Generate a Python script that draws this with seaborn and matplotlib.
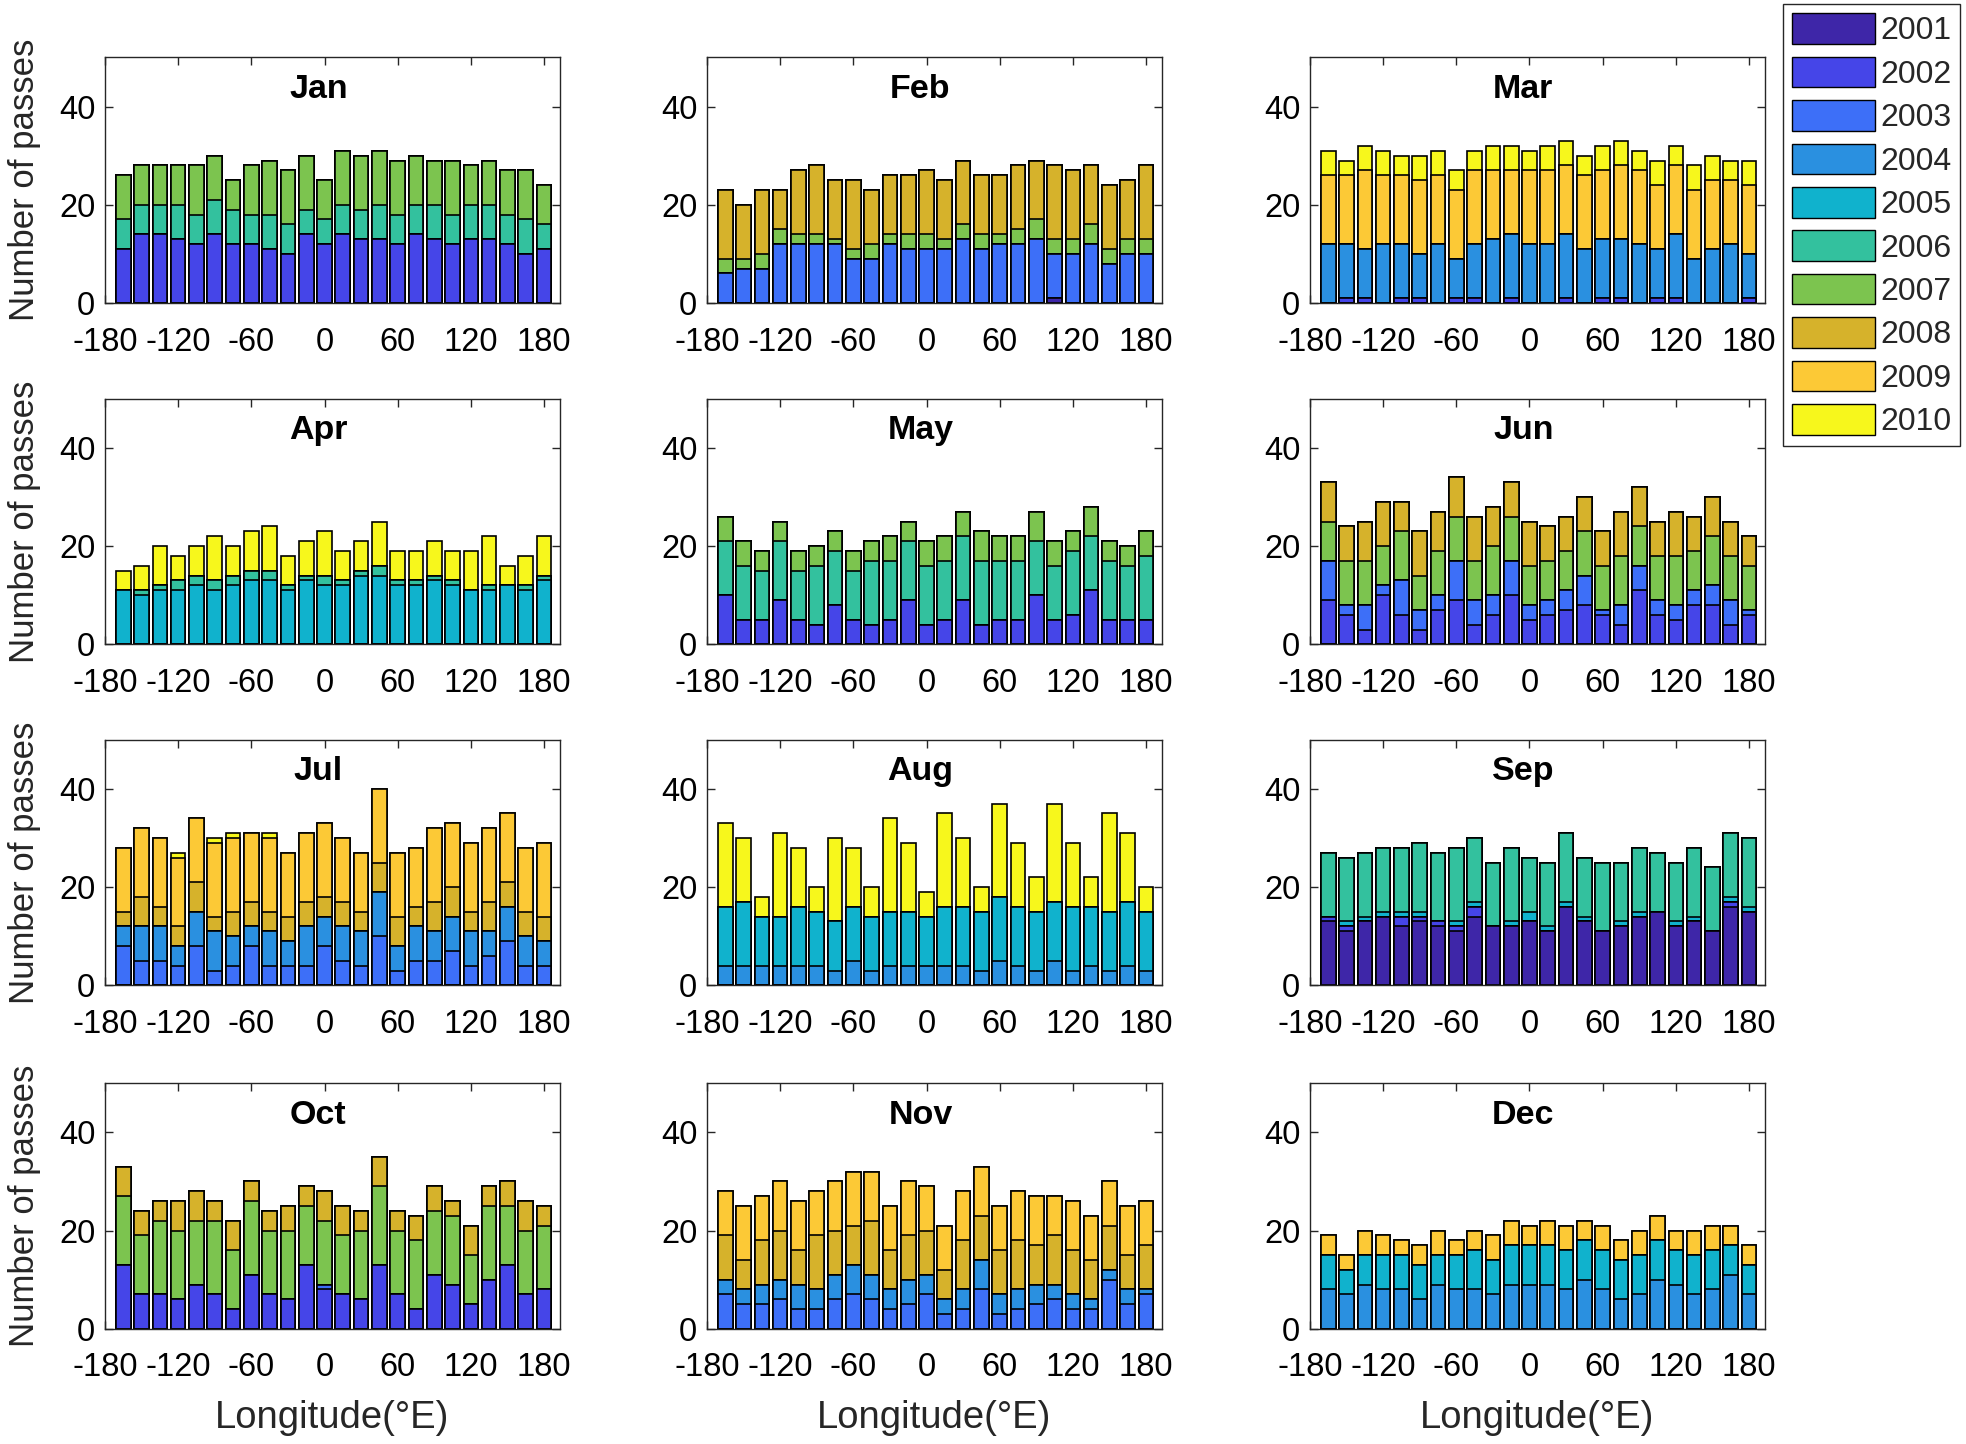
import numpy as np
import pandas as pd
import matplotlib
matplotlib.use("Agg")
import matplotlib.pyplot as plt
from matplotlib.patches import Patch
import seaborn as sns

# bar centres (deg E) and the years that get stacked
lon = list(range(-165, 181, 15))
years = list(range(2001, 2011))
year_colors = ["#3E26A8", "#4545E8", "#3D6FF8", "#2A90E0", "#10B2CD",
               "#33C19E", "#7CC44F", "#D6B22B", "#FCC936", "#F7F71C"]
month_names = ["Jan", "Feb", "Mar", "Apr", "May", "Jun",
               "Jul", "Aug", "Sep", "Oct", "Nov", "Dec"]
xticks = [-180, -120, -60, 0, 60, 120, 180]
yticks = [0, 20, 40]

# passes per longitude bin, by year (years not listed are zero)
jan = {
    2002: [11, 14, 14, 13, 12, 14, 12, 12, 11, 10, 14, 12, 14, 13, 13, 12, 14, 13, 12, 13, 13, 12, 10, 11],
    2006: [6, 6, 6, 7, 6, 7, 7, 6, 7, 6, 5, 5, 6, 6, 7, 6, 6, 7, 6, 7, 7, 6, 7, 5],
    2007: [9, 8, 8, 8, 10, 9, 6, 10, 11, 11, 11, 8, 11, 11, 11, 11, 10, 9, 11, 8, 9, 9, 10, 8],
}
feb = {
    2001: [0, 0, 0, 0, 0, 0, 0, 0, 0, 0, 0, 0, 0, 0, 0, 0, 0, 0, 1, 0, 0, 0, 0, 0],
    2003: [6, 7, 7, 12, 12, 12, 12, 9, 9, 12, 11, 11, 11, 13, 11, 12, 12, 13, 9, 10, 12, 8, 10, 10],
    2007: [3, 2, 3, 3, 2, 2, 1, 2, 3, 2, 3, 3, 2, 3, 3, 2, 3, 4, 3, 3, 4, 3, 3, 3],
    2008: [14, 11, 13, 8, 13, 14, 12, 14, 11, 12, 12, 13, 12, 13, 12, 12, 13, 12, 15, 14, 12, 13, 12, 15],
}
mar = {
    2002: [0, 1, 1, 0, 1, 1, 0, 1, 1, 0, 1, 0, 0, 1, 0, 1, 1, 0, 1, 1, 0, 0, 0, 1],
    2004: [12, 11, 10, 12, 11, 9, 12, 8, 11, 13, 13, 12, 12, 13, 11, 12, 12, 12, 10, 13, 9, 11, 12, 9],
    2009: [14, 14, 16, 14, 14, 15, 14, 14, 15, 14, 13, 15, 15, 14, 15, 14, 15, 15, 13, 14, 14, 14, 13, 14],
    2010: [5, 3, 5, 5, 4, 5, 5, 4, 4, 5, 5, 4, 5, 5, 4, 5, 5, 4, 5, 4, 5, 5, 4, 5],
}
apr = {
    2005: [11, 10, 11, 11, 12, 11, 12, 13, 13, 11, 13, 12, 12, 14, 14, 12, 12, 13, 12, 11, 11, 12, 11, 13],
    2006: [0, 1, 1, 2, 2, 2, 2, 2, 2, 1, 1, 2, 1, 1, 2, 1, 1, 1, 1, 0, 1, 0, 1, 1],
    2010: [4, 5, 8, 5, 6, 9, 6, 8, 9, 6, 7, 9, 6, 6, 9, 6, 6, 7, 6, 8, 10, 4, 6, 8],
}
may = {
    2002: [10, 5, 5, 9, 5, 4, 8, 5, 4, 5, 9, 4, 5, 9, 4, 5, 5, 10, 5, 6, 11, 5, 5, 5],
    2006: [11, 11, 10, 12, 10, 12, 11, 10, 13, 12, 12, 12, 12, 13, 13, 12, 12, 11, 11, 13, 11, 12, 11, 13],
    2007: [5, 5, 4, 4, 4, 4, 4, 4, 4, 5, 4, 5, 5, 5, 6, 5, 5, 6, 5, 4, 6, 4, 4, 5],
}
jun = {
    2002: [9, 6, 3, 10, 6, 3, 7, 9, 4, 6, 10, 5, 6, 7, 8, 6, 4, 11, 6, 5, 8, 8, 4, 6],
    2003: [8, 2, 5, 2, 7, 4, 3, 8, 5, 4, 7, 3, 3, 4, 6, 1, 4, 5, 3, 3, 3, 4, 5, 1],
    2007: [8, 9, 9, 8, 10, 7, 9, 9, 8, 10, 9, 8, 8, 8, 9, 9, 10, 8, 9, 10, 8, 10, 9, 9],
    2008: [8, 7, 8, 9, 6, 9, 8, 8, 9, 8, 7, 9, 7, 7, 7, 7, 9, 8, 7, 9, 7, 8, 7, 6],
}
jul = {
    2003: [8, 5, 5, 4, 8, 3, 4, 8, 4, 4, 4, 8, 5, 4, 10, 3, 5, 5, 7, 4, 6, 9, 4, 4],
    2004: [4, 7, 7, 4, 7, 8, 6, 4, 7, 5, 8, 6, 7, 7, 9, 5, 7, 6, 7, 7, 5, 7, 6, 5],
    2008: [3, 6, 4, 4, 6, 3, 5, 5, 4, 5, 5, 4, 5, 4, 6, 6, 4, 6, 6, 4, 6, 5, 5, 5],
    2009: [13, 14, 14, 14, 13, 15, 15, 14, 15, 13, 14, 15, 13, 12, 15, 13, 12, 15, 13, 14, 15, 14, 13, 15],
    2010: [0, 0, 0, 1, 0, 1, 1, 0, 1, 0, 0, 0, 0, 0, 0, 0, 0, 0, 0, 0, 0, 0, 0, 0],
}
aug = {
    2004: [4, 4, 4, 4, 4, 4, 3, 5, 3, 4, 4, 4, 4, 4, 3, 5, 4, 3, 5, 3, 4, 3, 4, 3],
    2005: [12, 13, 10, 10, 12, 11, 10, 11, 11, 11, 11, 10, 12, 12, 12, 13, 12, 12, 12, 13, 12, 12, 13, 12],
    2010: [17, 13, 4, 17, 12, 5, 17, 12, 6, 19, 14, 5, 19, 14, 5, 19, 13, 7, 20, 13, 6, 20, 14, 5],
}
sep = {
    2001: [13, 11, 13, 14, 12, 13, 12, 11, 14, 12, 12, 13, 11, 16, 13, 11, 12, 14, 15, 12, 13, 11, 16, 15],
    2002: [1, 1, 0, 0, 2, 1, 1, 1, 2, 0, 0, 0, 0, 0, 0, 0, 0, 0, 0, 0, 0, 0, 1, 0],
    2005: [0, 1, 1, 1, 1, 1, 0, 1, 1, 0, 1, 2, 1, 1, 1, 0, 1, 1, 0, 1, 1, 0, 1, 1],
    2006: [13, 13, 13, 13, 13, 14, 14, 15, 13, 13, 15, 11, 13, 14, 12, 14, 12, 13, 12, 12, 14, 13, 13, 14],
}
oct_ = {
    2002: [13, 7, 7, 6, 9, 7, 4, 11, 7, 6, 13, 8, 7, 6, 13, 7, 4, 11, 9, 5, 10, 13, 7, 8],
    2003: [0, 0, 0, 0, 0, 0, 0, 0, 0, 0, 0, 1, 0, 0, 0, 0, 0, 0, 0, 0, 0, 0, 0, 0],
    2007: [14, 12, 15, 14, 13, 15, 12, 15, 13, 14, 12, 13, 12, 14, 16, 13, 14, 13, 14, 10, 15, 12, 13, 13],
    2008: [6, 5, 4, 6, 6, 4, 6, 4, 4, 5, 4, 6, 6, 4, 6, 4, 5, 5, 3, 6, 4, 5, 6, 4],
}
nov = {
    2003: [7, 5, 5, 6, 4, 4, 6, 7, 6, 4, 5, 7, 3, 4, 8, 3, 4, 5, 6, 4, 4, 10, 5, 7],
    2004: [3, 3, 4, 4, 5, 4, 5, 6, 5, 4, 5, 4, 3, 4, 6, 4, 4, 4, 3, 3, 2, 2, 3, 1],
    2008: [9, 6, 9, 10, 7, 11, 9, 8, 11, 8, 9, 9, 6, 10, 9, 9, 10, 8, 10, 9, 8, 9, 7, 9],
    2009: [9, 11, 9, 10, 10, 9, 10, 11, 10, 9, 11, 9, 9, 10, 10, 9, 10, 10, 8, 10, 9, 9, 10, 9],
}
dec = {
    2004: [8, 7, 9, 8, 8, 6, 9, 8, 8, 7, 9, 9, 9, 8, 10, 8, 6, 7, 10, 9, 7, 8, 11, 7],
    2005: [7, 5, 6, 7, 7, 7, 6, 7, 8, 7, 8, 8, 8, 8, 8, 8, 8, 8, 8, 7, 8, 8, 6, 6],
    2009: [4, 3, 5, 4, 3, 4, 5, 3, 4, 5, 5, 4, 5, 5, 4, 5, 4, 5, 5, 4, 5, 5, 4, 4],
}
months = [jan, feb, mar, apr, may, jun, jul, aug, sep, oct_, nov, dec]

sns.set_style("ticks")
plt.rcParams["font.family"] = ["Liberation Sans", "DejaVu Sans"]
plt.rcParams["axes.unicode_minus"] = False

INK = "#262626"
fig = plt.figure(figsize=(19.66, 14.44), dpi=100)

col_left = [0.0534, 0.3596, 0.6663]
row_bottom = [0.7902, 0.5538, 0.3177, 0.0798]
ax_w, ax_h = 0.2314, 0.170


def draw_month(ax, counts, name):
    table = pd.DataFrame(0, index=lon, columns=years)
    for yr, vals in counts.items():
        table[yr] = vals
    cum = table.cumsum(axis=1)
    # overlay cumulative bars, tallest first, so it reads as a stacked bar
    for yr, col in zip(years[::-1], year_colors[::-1]):
        sns.barplot(x=lon, y=cum[yr].values, native_scale=True, color=col,
                    saturation=1, width=0.8, edgecolor="black", linewidth=1.2,
                    errorbar=None, ax=ax)
    ax.set_xlim(-180, 193)
    ax.set_ylim(0, 50)
    ax.set_xticks(xticks, labels=[str(v) for v in xticks])
    ax.set_yticks(yticks, labels=[str(v) for v in yticks])
    ax.tick_params(direction="in", top=True, right=True, length=6, width=1,
                   labelsize=23.5, colors=INK, labelcolor="black")
    ax.tick_params(axis="x", pad=17)
    ax.tick_params(axis="y", pad=7)
    for sp in ax.spines.values():
        sp.set_visible(True)
        sp.set_color(INK)
        sp.set_linewidth(1.0)
    ax.set_xlabel("")
    ax.set_ylabel("")
    ax.text(-5, 43.5, name, ha="center", va="center", fontsize=24.5,
            fontweight="bold", color="black")


for i, (counts, name) in enumerate(zip(months, month_names)):
    r, c = divmod(i, 3)
    ax = fig.add_axes([col_left[c], row_bottom[r], ax_w, ax_h])
    draw_month(ax, counts, name)
    if c == 0:
        ax.set_ylabel("Number of passes", fontsize=25, color=INK)
        ax.yaxis.set_label_coords(-0.14, 0.5)
    if r == 3:
        ax.set_xlabel("Longitude(°E)", fontsize=27.5, color=INK)
        ax.xaxis.set_label_coords(0.5, -0.29)

handles = [Patch(facecolor=col, edgecolor="black", linewidth=1.0) for col in year_colors]
fig.legend(handles, [str(y) for y in years], loc="upper right",
           bbox_to_anchor=(0.997, 0.997), fontsize=23, frameon=True,
           fancybox=False, edgecolor=INK, framealpha=1, borderpad=0.28,
           handlelength=2.6, handleheight=1.1, handletextpad=0.15,
           labelspacing=0.32, borderaxespad=0)

fig.savefig("out.png", dpi=100)
